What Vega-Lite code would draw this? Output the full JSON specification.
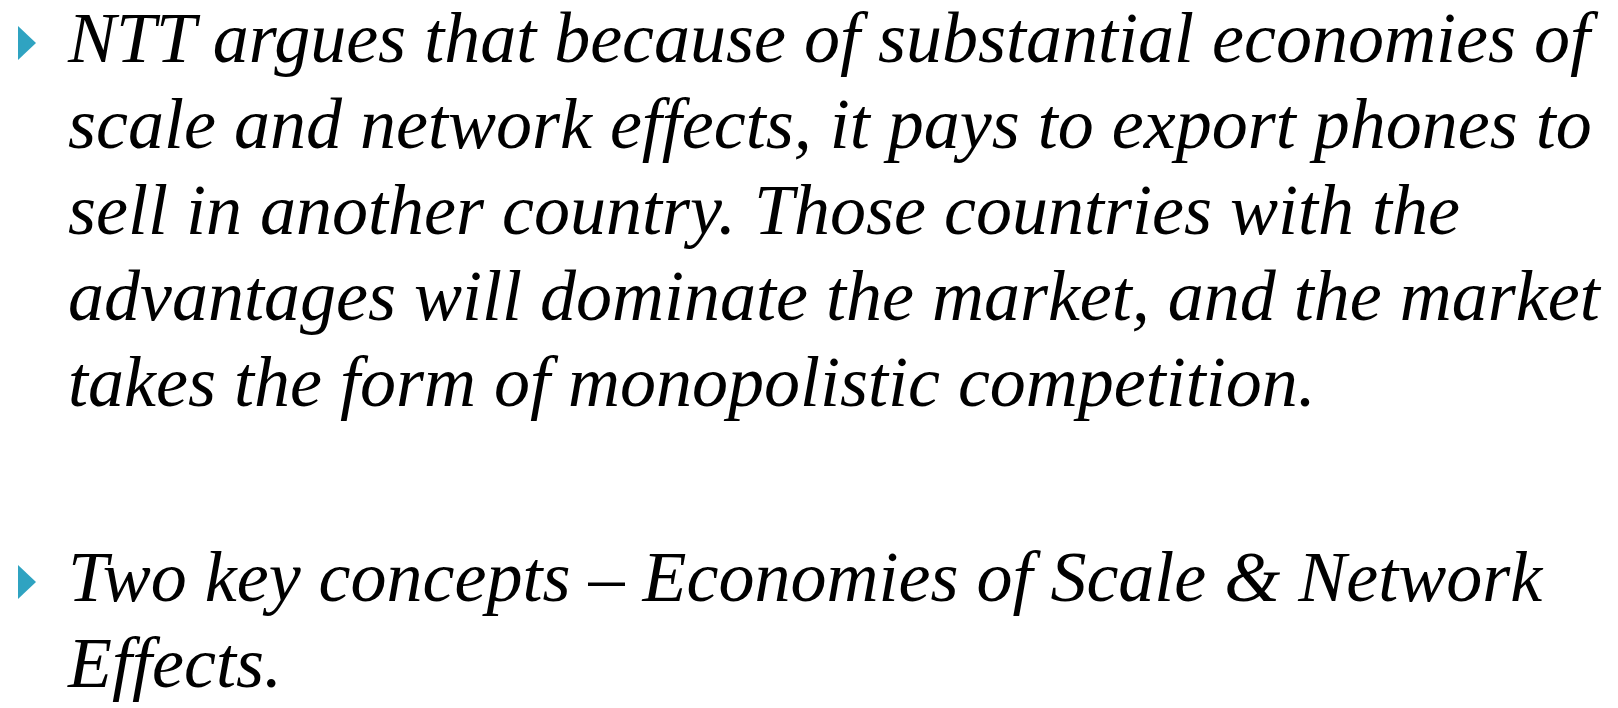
{
  "$schema": "https://vega.github.io/schema/vega-lite/v6.json",
  "padding": 0,
  "background": "white",
  "config": {"view": {"stroke": null}, "concat": {"spacing": 109}},
  "datasets": {
    "lines": [
      {"para": 1, "line": 1, "text": "NTT argues that because of substantial economies of"},
      {"para": 1, "line": 2, "text": "scale and network effects, it pays to export phones to"},
      {"para": 1, "line": 3, "text": "sell in another country. Those countries with the"},
      {"para": 1, "line": 4, "text": "advantages will dominate the market, and the market"},
      {"para": 1, "line": 5, "text": "takes the form of monopolistic competition."},
      {"para": 2, "line": 1, "text": "Two key concepts – Economies of Scale & Network"},
      {"para": 2, "line": 2, "text": "Effects."}
    ]
  },
  "vconcat": [
    {
      "width": 1618,
      "height": 430,
      "data": {"name": "lines"},
      "transform": [{"filter": "datum.para == 1"}],
      "layer": [
        {
          "mark": {"type": "text", "align": "left", "baseline": "alphabetic", "font": "Liberation Serif", "fontStyle": "italic", "fontSize": 72, "color": "#000000"},
          "encoding": {
            "x": {"datum": 1, "type": "quantitative", "scale": {"domain": [0, 1], "range": [27, 68], "zero": false, "nice": false}, "axis": null},
            "y": {"field": "line", "type": "quantitative", "scale": {"domain": [0.279, 5.279], "reverse": true, "zero": false, "nice": false}, "axis": null},
            "text": {"field": "text"}
          }
        },
        {
          "transform": [{"filter": "datum.line == 1"}],
          "mark": {"type": "point", "filled": true, "shape": "M-0.53,-1L0.53,0L-0.53,1Z", "size": 1156, "color": "#2fa3c1", "opacity": 1},
          "encoding": {
            "x": {"datum": 0, "type": "quantitative"},
            "y": {"datum": 0.779, "type": "quantitative"}
          }
        }
      ]
    },
    {
      "width": 1618,
      "height": 168,
      "data": {"name": "lines"},
      "transform": [{"filter": "datum.para == 2"}],
      "layer": [
        {
          "mark": {"type": "text", "align": "left", "baseline": "alphabetic", "font": "Liberation Serif", "fontStyle": "italic", "fontSize": 72, "color": "#000000"},
          "encoding": {
            "x": {"datum": 1, "type": "quantitative", "scale": {"domain": [0, 1], "range": [27, 68], "zero": false, "nice": false}, "axis": null},
            "y": {"field": "line", "type": "quantitative", "scale": {"domain": [0.279, 2.2326], "reverse": true, "zero": false, "nice": false}, "axis": null},
            "text": {"field": "text"}
          }
        },
        {
          "transform": [{"filter": "datum.line == 1"}],
          "mark": {"type": "point", "filled": true, "shape": "M-0.53,-1L0.53,0L-0.53,1Z", "size": 1156, "color": "#2fa3c1", "opacity": 1},
          "encoding": {
            "x": {"datum": 0, "type": "quantitative"},
            "y": {"datum": 0.779, "type": "quantitative"}
          }
        }
      ]
    }
  ]
}
